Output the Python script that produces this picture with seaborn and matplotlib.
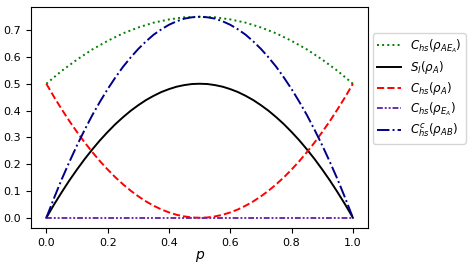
import matplotlib
matplotlib.use('Agg')

import pandas as pd
import matplotlib.pyplot as plt
import seaborn as sns

p = [0.0, 0.025, 0.05, 0.075, 0.1, 0.125, 0.15, 0.175, 0.2, 0.225, 0.25,
     0.275, 0.3, 0.325, 0.35, 0.375, 0.4, 0.425, 0.45, 0.475, 0.5,
     0.525, 0.55, 0.575, 0.6, 0.625, 0.65, 0.675, 0.7, 0.725, 0.75,
     0.775, 0.8, 0.825, 0.85, 0.875, 0.9, 0.925, 0.95, 0.975, 1.0]
c_ae = [0.5, 0.524, 0.548, 0.569, 0.59, 0.609, 0.628, 0.644, 0.66, 0.674, 0.688,
        0.699, 0.71, 0.719, 0.728, 0.734, 0.74, 0.744, 0.748, 0.749, 0.75,
        0.749, 0.748, 0.744, 0.74, 0.734, 0.728, 0.719, 0.71, 0.699, 0.688,
        0.674, 0.66, 0.644, 0.628, 0.609, 0.59, 0.569, 0.548, 0.524, 0.5]
s_l = [0.0, 0.049, 0.095, 0.139, 0.18, 0.219, 0.255, 0.289, 0.32, 0.349, 0.375,
       0.399, 0.42, 0.439, 0.455, 0.469, 0.48, 0.489, 0.495, 0.499, 0.5,
       0.499, 0.495, 0.489, 0.48, 0.469, 0.455, 0.439, 0.42, 0.399, 0.375,
       0.349, 0.32, 0.289, 0.255, 0.219, 0.18, 0.139, 0.095, 0.049, 0.0]
c_a = [0.5, 0.451, 0.405, 0.361, 0.32, 0.281, 0.245, 0.211, 0.18, 0.151, 0.125,
       0.101, 0.08, 0.061, 0.045, 0.031, 0.02, 0.011, 0.005, 0.001, 0.0,
       0.001, 0.005, 0.011, 0.02, 0.031, 0.045, 0.061, 0.08, 0.101, 0.125,
       0.151, 0.18, 0.211, 0.245, 0.281, 0.32, 0.361, 0.405, 0.451, 0.5]
c_e = [0.0] * 41
c_ab = [0.0, 0.073, 0.143, 0.208, 0.27, 0.328, 0.383, 0.433, 0.48, 0.523, 0.563,
        0.598, 0.63, 0.658, 0.683, 0.703, 0.72, 0.733, 0.743, 0.748, 0.75,
        0.748, 0.743, 0.733, 0.72, 0.703, 0.683, 0.658, 0.63, 0.598, 0.563,
        0.523, 0.48, 0.433, 0.383, 0.328, 0.27, 0.208, 0.143, 0.073, 0.0]

labels = [r'$C_{hs}(\rho_{AE_A})$', r'$S_l(\rho_A)$', r'$C_{hs}(\rho_A)$',
          r'$C_{hs}(\rho_{E_A})$', r'$C^c_{hs}(\rho_{AB})$']

plt.rcParams['font.size'] = 8

fig, ax = plt.subplots(figsize=(4.77, 2.68), dpi=100)
fig.subplots_adjust(left=0.065, right=0.772, top=0.975, bottom=0.15)

styles = [
    (c_ae, 'green', ':'),
    (s_l, 'black', '-'),
    (c_a, 'red', '--'),
    (c_e, '#6a2db0', (0, (3, 1, 1, 1, 1, 1))),
    (c_ab, '#00008b', '-.'),
]
for (vals, col, ls), lab in zip(styles, labels):
    df = pd.DataFrame({'p': p, 'v': vals})
    sns.lineplot(data=df, x='p', y='v', ax=ax, color=col, linestyle=ls,
                 linewidth=1.4, label=lab)

ax.set_xlabel(r'$p$', fontsize=10, labelpad=1)
ax.set_ylabel('')
ax.set_yticks([0.0, 0.1, 0.2, 0.3, 0.4, 0.5, 0.6, 0.7])
ax.legend(loc='center left', bbox_to_anchor=(0.995, 0.63), fontsize=8.6,
          handlelength=2.0, borderpad=0.35, labelspacing=0.32)

fig.savefig('out.png', dpi=100)
